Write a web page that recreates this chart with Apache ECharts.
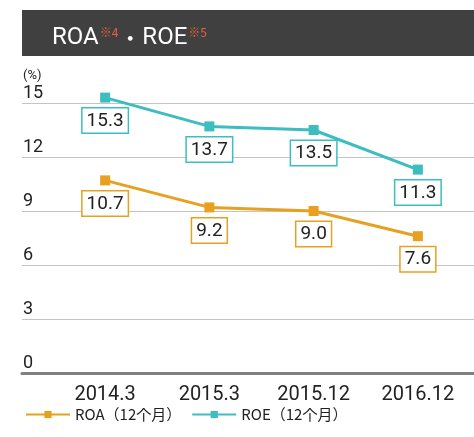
<!DOCTYPE html>
<html><head><meta charset="utf-8">
<script src="https://cdn.jsdelivr.net/npm/echarts@6/dist/echarts.min.js"></script>
<style>html,body{margin:0;padding:0;background:#fff}#c{width:474px;height:437px}</style>
</head><body><div id="c"></div>
<script>
const categories = ['2014.3', '2015.3', '2015.12', '2016.12'];
const roa = [10.7, 9.2, 9.0, 7.6];
const roe = [15.3, 13.7, 13.5, 11.3];
const seriesNames = ['ROA（12个月）', 'ROE（12个月）'];
const yTicks = [0, 3, 6, 9, 12, 15];

const ORANGE = '#E8A020', TEAL = '#3DBDC0';
const FONT = 'Roboto,"Noto Sans CJK JP",sans-serif';
const CJK = '"Noto Sans CJK JP","Noto Sans",sans-serif';

function lbl(color){
  return {show:true, position:'bottom', distance:6, color:'#222', fontSize:19, fontFamily:FONT,
    lineHeight:19, backgroundColor:'#fff', borderColor:color, borderWidth:1.5, padding:[3,4,2,4],
    formatter: p => p.value.toFixed(1)};
}
const chart = echarts.init(document.getElementById('c'), null, {renderer:'canvas'});
chart.setOption({
  animation:false,
  graphic:[{type:'rect', shape:{x:22,y:10,width:452,height:46}, style:{fill:'#404040'}, z:0}],
  title:{
    text:'{a|ROA}{s|※4}{d|・}{a|ROE}{s|※5}', left:47, top:18,
    textStyle:{rich:{
      a:{color:'#fff', fontSize:24, fontFamily:FONT, fontWeight:'normal', lineHeight:30},
      d:{color:'#fff', fontSize:22, fontFamily:CJK, fontWeight:'normal', lineHeight:30, padding:[0,1,0,1]},
      s:{color:'#E8603A', fontSize:12, fontFamily:CJK, fontWeight:'normal', padding:[0,0,12,1], lineHeight:30}
    }}
  },
  legend:{
    left:20, top:402, itemWidth:44, itemHeight:9, itemGap:10,
    textStyle:{fontSize:15, color:'#222', fontFamily:CJK},
    data:seriesNames
  },
  grid:[
    {left:22, right:0, top:103, bottom:64},
    {left:53, right:4, top:103, bottom:64}
  ],
  xAxis:[
    {gridIndex:0, type:'value', min:0, max:1, show:true,
      axisLine:{show:true, onZero:false, lineStyle:{color:'#808080', width:3}},
      axisTick:{show:false}, axisLabel:{show:false}, splitLine:{show:false}},
    {gridIndex:1, type:'category', data:categories, boundaryGap:true,
      axisLine:{show:false}, axisTick:{show:false},
      axisLabel:{margin:12, fontSize:20, color:'#222', fontFamily:FONT}}
  ],
  yAxis:[
    {gridIndex:0, type:'value', min:0, max:15, interval:3,
      name:'(%)', nameLocation:'end', nameGap:21,
      nameTextStyle:{align:'left', fontSize:13, color:'#222', fontFamily:FONT, padding:[0,0,0,1]},
      axisLine:{show:false}, axisTick:{show:false},
      axisLabel:{inside:true, margin:1, verticalAlign:'bottom', fontSize:18, color:'#222', fontFamily:FONT,
        padding:[0,0,1,0], formatter: v => yTicks.includes(v) ? String(v) : ''},
      splitLine:{show:true, lineStyle:{color:'#c4c4c4', width:1}}},
    {gridIndex:1, type:'value', min:0, max:15, interval:3, show:false, splitLine:{show:false}}
  ],
  series:[
    {name:seriesNames[0], type:'line', xAxisIndex:1, yAxisIndex:1, data:roa, clip:false,
      color:ORANGE, symbol:'rect', symbolSize:10, lineStyle:{width:3, color:ORANGE},
      itemStyle:{color:ORANGE}, label:lbl(ORANGE)},
    {name:seriesNames[1], type:'line', xAxisIndex:1, yAxisIndex:1, data:roe, clip:false,
      color:TEAL, symbol:'rect', symbolSize:10, lineStyle:{width:3, color:TEAL},
      itemStyle:{color:TEAL}, label:lbl(TEAL)}
  ]
});
</script></body></html>
